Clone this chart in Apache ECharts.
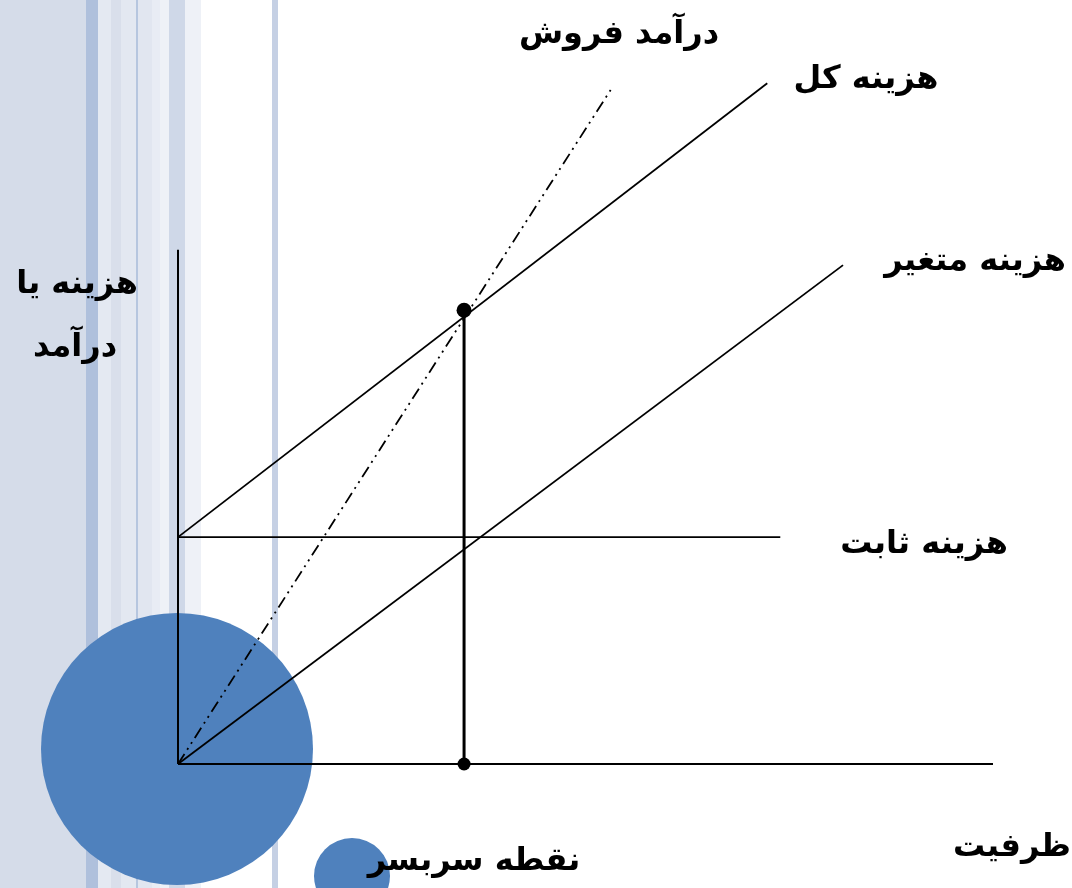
<!DOCTYPE html>
<html>
<head>
<meta charset="utf-8">
<script src="https://cdn.jsdelivr.net/npm/echarts@6/dist/echarts.min.js"></script>
<style>
html,body{margin:0;padding:0;background:#fff;}
#chart{width:1072px;height:888px;}
</style>
</head>
<body>
<div id="chart" dir="rtl"></div>
<script>
// Break-even chart data (x: capacity units 0-100, y: cost/revenue units 0-100)
var yAxisLine      = [[0, 0], [0, 67.3]];
var xAxisLine      = [[0, 0], [100, 0]];
var fixedCost      = [[0, 29.7], [73.9, 29.7]];
var totalCost      = [[0, 29.7], [72.3, 89.1]];
var variableCost   = [[0, 0], [81.6, 65.3]];
var salesRevenue   = [[0, 0], [53.25, 88.5]];
var breakEvenPoint = [[35.1, 59.4]];
var breakEvenDrop  = [[35.1, 59.4], [35.1, 0]];
var breakEvenFoot  = [[35.1, 0]];

var labels = {
  revenue: 'درآمد فروش',
  total: 'هزینه کل',
  variable: 'هزینه متغیر',
  fixed: 'هزینه ثابت',
  capacity: 'ظرفیت',
  breakEven: 'نقطه سربسر',
  yTitle1: 'هزینه یا',
  yTitle2: 'درآمد'
};

var stripes = [
  [0, 86, '#d5dce9'], [86, 12, '#afc0dc'], [98, 13, '#e4e9f2'], [111, 10, '#d9dfeb'],
  [121, 15, '#e3e8f1'], [136, 2, '#b6c6df'], [138, 14, '#e1e6f0'], [152, 8, '#e8ecf4'],
  [160, 9, '#eef1f7'], [169, 16, '#cfd8e8'], [185, 16, '#eef1f7'], [272, 6, '#c5d0e4']
];

var chart = echarts.init(document.getElementById('chart'));
var font = '"DejaVu Sans", sans-serif';

var graphics = [];
stripes.forEach(function (s) {
  graphics.push({type: 'rect', z: -10, shape: {x: s[0], y: 0, width: s[1], height: 888}, style: {fill: s[2]}, silent: true});
});
graphics.push({type: 'circle', z: -5, shape: {cx: 177, cy: 749, r: 136}, style: {fill: '#4f81bd'}});
graphics.push({type: 'circle', z: -5, shape: {cx: 352, cy: 876, r: 38}, style: {fill: '#4f81bd'}});

function txt(t, x, y, size) {
  return {type: 'text', z: 100, x: x, y: y,
    style: {text: t, fill: '#000', font: 'bold ' + (size || 32) + 'px ' + font, textAlign: 'center', textVerticalAlign: 'middle'}};
}
graphics.push(txt(labels.revenue, 619, 35));
graphics.push(txt(labels.total, 866, 80));
graphics.push(txt(labels.variable, 975, 262));
graphics.push(txt(labels.fixed, 924, 545));
graphics.push(txt(labels.capacity, 1012, 848));
graphics.push(txt(labels.breakEven, 474, 862));
graphics.push(txt(labels.yTitle1, 77, 285));
graphics.push(txt(labels.yTitle2, 75, 348));

function lineSeries(data, width, type) {
  return {type: 'line', data: data, symbol: 'none', silent: true, z: 3,
    lineStyle: {color: '#000', width: width || 2, type: type || 'solid', opacity: 1}};
}

chart.setOption({
  animation: false,
  backgroundColor: '#fff',
  grid: {left: 178, top: 0, width: 815, height: 764},
  xAxis: {type: 'value', min: 0, max: 100, show: false},
  yAxis: {type: 'value', min: 0, max: 100, show: false},
  graphic: graphics,
  series: [
    lineSeries(yAxisLine, 2),
    lineSeries(xAxisLine, 2),
    lineSeries(fixedCost, 1.8),
    lineSeries(totalCost, 1.8),
    lineSeries(variableCost, 1.8),
    lineSeries(salesRevenue, 1.8, [12, 5, 2, 5, 2, 5]),
    lineSeries(breakEvenDrop, 3),
    {type: 'scatter', data: breakEvenPoint, symbol: 'circle', symbolSize: 15, itemStyle: {color: '#000', opacity: 1}, silent: true, z: 4},
    {type: 'scatter', data: breakEvenFoot, symbol: 'circle', symbolSize: 13, itemStyle: {color: '#000', opacity: 1}, silent: true, z: 4}
  ]
});
</script>
</body>
</html>
